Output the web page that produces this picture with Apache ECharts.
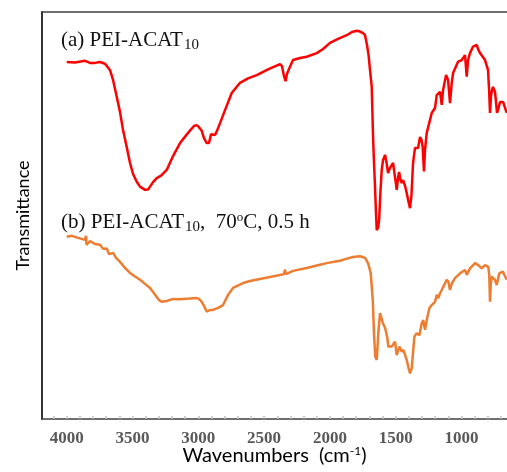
<!DOCTYPE html>
<html>
<head>
<meta charset="utf-8">
<script src="https://cdn.jsdelivr.net/npm/echarts@6/dist/echarts.min.js"></script>
<style>
html,body{margin:0;padding:0;background:#fff;}
#chart{width:507px;height:472px;}
</style>
</head>
<body>
<div id="chart"></div>
<script>
// Wavenumber (cm-1) and transmittance (arbitrary units, 0-100 plot scale)
const seriesAWavenumber = [4000,3937,3861,3823,3785,3747,3709,3671,3648,3620,3595,3572,3544,3519,3496,3468,3443,3405,3382,3367,3344,3316,3283,3240,3192,3139,3078,3033,3012,2995,2974,2957,2936,2919,2903,2888,2873,2858,2835,2797,2746,2683,2622,2556,2470,2379,2364,2349,2337,2326,2311,2280,2227,2176,2100,2052,1999,1938,1872,1832,1796,1771,1748,1733,1718,1706,1695,1682,1672,1664,1657,1649,1644,1634,1626,1615,1606,1596,1581,1569,1558,1543,1530,1520,1504,1492,1482,1474,1463,1454,1444,1428,1416,1402,1391,1380,1368,1353,1330,1315,1304,1295,1285,1277,1264,1239,1226,1201,1188,1163,1150,1140,1117,1102,1087,1075,1064,1026,998,973,960,950,935,912,897,884,874,859,821,798,790,783,775,762,745,730,718,707,684,656];
const seriesATransmittance = [87.7,87.6,88.0,87.5,87.5,87.7,87.3,85.7,83.3,79.2,75.4,71.0,66.8,62.9,60.2,58.3,57.1,56.3,56.4,57.1,58.2,59.2,59.8,61.2,64.6,67.8,70.3,72.0,72.2,71.7,70.8,69.0,67.8,67.8,70.0,70.1,69.8,70.8,72.7,75.9,80.1,82.6,83.7,84.5,85.9,87.2,86.7,84.3,83.0,84.8,86.0,88.2,88.7,89.0,89.9,90.9,92.4,93.4,94.3,95.1,95.4,95.2,94.8,94.3,91.9,89.4,85.7,81.6,69.3,62.4,57.0,50.1,46.4,47.0,48.9,56.3,61.2,63.6,64.9,62.9,60.4,61.7,62.0,62.9,59.2,56.3,59.2,60.7,58.7,58.0,58.7,57.2,55.5,53.3,51.8,55.0,62.9,66.6,66.6,69.3,68.6,66.9,60.8,66.1,70.3,73.5,75.2,76.4,79.6,80.4,77.2,80.8,84.5,83.3,77.6,82.2,85.0,87.8,88.2,89.4,84.1,88.2,89.9,91.5,91.3,91.9,90.9,89.9,88.2,85.7,80.8,75.2,79.6,81.6,80.4,75.2,76.4,77.9,77.9,75.2];

const seriesBWavenumber = [4000,3960,3914,3861,3853,3850,3823,3785,3747,3724,3696,3679,3648,3625,3595,3557,3519,3481,3443,3405,3367,3344,3316,3298,3278,3240,3192,3154,3116,3063,3012,2995,2974,2957,2936,2926,2910,2888,2850,2812,2774,2736,2660,2607,2531,2455,2379,2349,2341,2334,2322,2280,2176,2100,2024,1923,1870,1824,1771,1733,1710,1690,1674,1665,1655,1644,1632,1619,1611,1598,1581,1563,1556,1543,1530,1518,1505,1492,1472,1454,1442,1416,1402,1391,1378,1358,1340,1320,1302,1290,1277,1264,1244,1226,1201,1188,1176,1163,1150,1132,1112,1100,1087,1074,1049,1011,973,960,935,897,872,846,821,796,789,783,778,770,745,732,712,686,656];
const seriesBTransmittance = [44.8,45.0,44.5,44.0,45.0,42.8,43.7,43.0,42.8,41.8,41.9,40.5,40.8,39.6,38.6,37.1,35.9,35.0,34.2,33.2,32.2,31.2,30.0,29.2,28.8,29.0,29.5,29.4,29.5,29.6,29.7,29.5,28.8,27.8,26.4,26.0,26.8,26.8,27.3,28.0,30.5,32.2,33.4,33.9,34.4,34.9,35.4,35.6,36.7,35.6,35.9,36.4,37.1,37.7,38.3,38.9,39.4,39.8,40.0,39.6,38.3,35.9,29.2,21.1,15.3,14.5,21.1,26.0,26.4,23.6,22.4,19.9,17.8,17.4,17.8,17.4,19.0,15.7,17.8,16.5,17.0,14.5,12.5,11.2,12.5,20.2,21.1,20.6,23.5,24.3,21.9,24.3,27.2,28.0,28.8,30.5,29.7,30.9,31.7,32.9,34.2,33.7,31.7,33.3,34.6,35.8,36.6,35.4,37.0,38.3,37.8,37.0,37.8,37.4,35.4,28.8,32.9,35.0,34.2,32.9,35.8,36.2,34.2];

const tickLabels = [4000,3500,3000,2500,2000,1500,1000];
const minorTicks = [4100,4000,3900,3800,3700,3600,3500,3400,3300,3200,3100,3000,2900,2800,2700,2600,2500,2400,2300,2200,2100,2000,1900,1800,1700,1600,1500,1400,1300,1200,1100,1000,900,800,700];

const seriesNames = ['(a) PEI-ACAT10', '(b) PEI-ACAT10, 70oC, 0.5 h'];

function pairs(xs, ys){ return xs.map((x,i)=>[x, ys[i]]); }

const chart = echarts.init(document.getElementById('chart'), null, {renderer:'canvas'});
chart.setOption({
  animation: false,
  backgroundColor: '#ffffff',
  grid: {left: 42, right: 0, top: 12, bottom: 53, containLabel: false, outerBoundsMode: 'none'},
  xAxis: [{
    type: 'value', inverse: true, min: 654, max: 4188,
    name: 'Wavenumbers  (cm{sup|-1})', nameLocation: 'middle', nameGap: 26, nameMoveOverlap: false,
    nameTextStyle: {fontFamily: 'Lato', fontSize: 20, color: '#000',
      rich: {sup: {fontFamily: 'Lato', fontSize: 12, color: '#000', verticalAlign: 'top', padding: [0,0,9,0]}}},
    axisLine: {show: true, onZero: false, lineStyle: {color: '#404040', width: 1.6}},
    axisTick: {show: true, inside: true, length: 3, customValues: minorTicks, lineStyle: {color: '#bdbdbd', width: 1.5}},
    axisLabel: {show: true, customValues: tickLabels, margin: 11, fontFamily: 'Liberation Serif', fontWeight: 'bold', fontSize: 17, color: '#595959',
      formatter: function(v){ return String(v); }},
    splitLine: {show: false}
  }, {
    type: 'value', inverse: true, min: 654, max: 4188, position: 'top',
    axisLine: {show: true, onZero: false, lineStyle: {color: '#404040', width: 1.6}},
    axisTick: {show: false}, axisLabel: {show: false}, splitLine: {show: false}
  }],
  yAxis: {
    type: 'value', min: 0, max: 100,
    name: 'Transmittance', nameLocation: 'middle', nameGap: 10, nameMoveOverlap: false,
    nameTextStyle: {fontFamily: 'Lato', fontSize: 18, color: '#000'},
    axisLine: {show: true, onZero: false, lineStyle: {color: '#202020', width: 1.8}},
    axisTick: {show: false}, axisLabel: {show: false}, splitLine: {show: false}
  },
  series: [{
    name: seriesNames[0], type: 'line', data: pairs(seriesAWavenumber, seriesATransmittance),
    showSymbol: false, symbol: 'none', lineStyle: {color: '#ff0000', width: 2.5}, z: 3
  }, {
    name: seriesNames[1], type: 'line', data: pairs(seriesBWavenumber, seriesBTransmittance),
    showSymbol: false, symbol: 'none', lineStyle: {color: '#ed7d31', width: 2.5}, z: 2
  }],
  graphic: [{
    type: 'text', left: 61, top: 30,
    style: {
      text: '{m|(a) PEI-ACAT}{s|10}',
      rich: {
        m: {fontFamily: 'Liberation Serif', fontSize: 21, lineHeight: 24, fill: '#111', verticalAlign: 'bottom'},
        s: {fontFamily: 'Liberation Serif', fontSize: 15, lineHeight: 16, fill: '#111', verticalAlign: 'bottom', padding: [0,0,-2,1]}
      }
    }
  }, {
    type: 'text', left: 61, top: 209,
    style: {
      text: '{m|(b) PEI-ACAT}{s|10}{m|,  70}{o|o}{m|C, 0.5 h}',
      rich: {
        m: {fontFamily: 'Liberation Serif', fontSize: 21, lineHeight: 24, fill: '#111', verticalAlign: 'bottom'},
        s: {fontFamily: 'Liberation Serif', fontSize: 15, lineHeight: 16, fill: '#111', verticalAlign: 'bottom', padding: [0,0,-2,1]},
        o: {fontFamily: 'Liberation Serif', fontSize: 13, lineHeight: 13, fill: '#111', verticalAlign: 'top', padding: [2,0,0,0]}
      }
    }
  }]
});
</script>
</body>
</html>
